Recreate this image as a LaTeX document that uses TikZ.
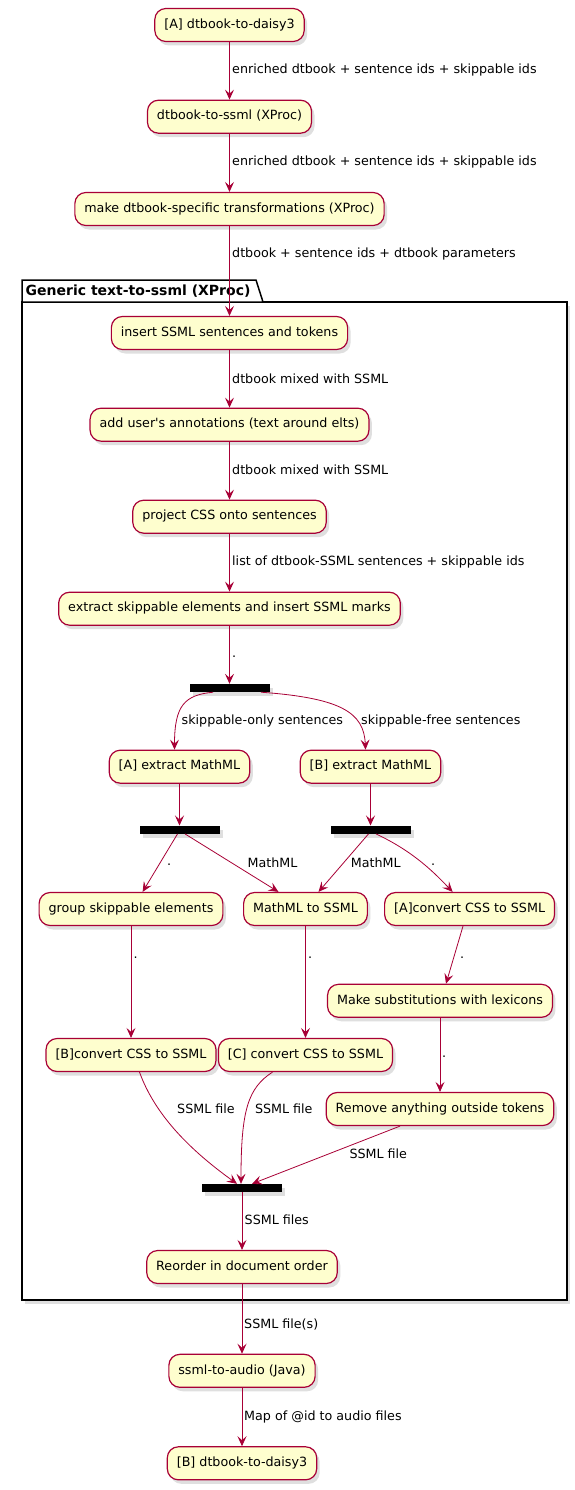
\documentclass[tikz,border=0pt]{standalone}
\usepackage{fontspec}
\setmainfont{DejaVu Sans}
\usetikzlibrary{arrows.meta, shadows}

\definecolor{umlred}{HTML}{A80036}
\definecolor{umlfill}{HTML}{FEFECE}

\begin{document}
\begin{tikzpicture}[x=1pt, y=-1pt,
        activity/.style={draw=umlred, line width=1.2pt, fill=umlfill, rounded corners=11pt, minimum height=33pt, inner xsep=9.5pt, text height=9pt, text depth=2.5pt, font=\fontsize{12.7}{14}\selectfont, drop shadow={shadow xshift=3pt, shadow yshift=-4pt, opacity=0.25}},
        syncbar/.style={fill=black, minimum width=80pt, minimum height=8pt, inner sep=0pt, drop shadow={shadow xshift=3pt, shadow yshift=-4pt, opacity=0.25}},
        flow/.style={draw=umlred, line width=0.8pt, -{Stealth[length=10pt, width=9pt, inset=4pt]}},
        lbl/.style={anchor=west, inner sep=1pt, font=\fontsize{12.7}{14}\selectfont}]
        \useasboundingbox (0,0) rectangle (575,1490);

        \draw[line width=1.5pt, fill=white, drop shadow={shadow xshift=3pt, shadow yshift=-4pt, opacity=0.25}] (22,302) rectangle (567,1300);
        \draw[line width=1.5pt, fill=white] (22,302) -- (22,280) -- (256,280) -- (263,302) -- cycle;
        \node[anchor=west, inner sep=0pt, font=\fontsize{14}{16}\selectfont\bfseries] (pkgtitle) at (25.5,291) {Generic text-to-ssml (XProc)};

        \node[activity] (daisyA) at (229.5,25) {[A] dtbook-to-daisy3};
        \node[activity] (tossml) at (229.5,116.7) {dtbook-to-ssml (XProc)};
        \node[activity] (dtbspecific) at (229.5,209) {make dtbook-specific transformations (XProc)};
        \node[activity] (insert) at (229.5,333) {insert SSML sentences and tokens};
        \node[activity] (annot) at (229.5,424.7) {add user\textquotesingle s annotations (text around elts)};
        \node[activity] (projcss) at (229.5,516.7) {project CSS onto sentences};
        \node[activity] (extract) at (229.5,608.7) {extract skippable elements and insert SSML marks};
        \node[syncbar] (forkA) at (229.5,688) {};
        \node[activity] (mathA) at (179.5,766.7) {[A] extract MathML};
        \node[activity] (mathB) at (370.5,766.7) {[B] extract MathML};
        \node[syncbar] (forkB) at (179.5,829.7) {};
        \node[syncbar] (forkC) at (370.5,829.7) {};
        \node[activity] (group) at (131,909) {group skippable elements};
        \node[activity] (mml) at (305.5,909) {MathML to SSML};
        \node[activity] (cssA) at (469.6,909) {[A]convert CSS to SSML};
        \node[activity] (lexicon) at (440,1000.8) {Make substitutions with lexicons};
        \node[activity] (cssB) at (131,1055) {[B]convert CSS to SSML};
        \node[activity] (cssC) at (305.5,1055) {[C] convert CSS to SSML};
        \node[activity] (remove) at (440,1109) {Remove anything outside tokens};
        \node[syncbar] (joinD) at (242,1188) {};
        \node[activity] (reorder) at (242,1267) {Reorder in document order};
        \node[activity] (audio) at (242,1370.8) {ssml-to-audio (Java)};
        \node[activity] (daisyB) at (242,1463.3) {[B] dtbook-to-daisy3};

        \draw[flow] (daisyA) -- (tossml);
        \draw[flow] (tossml) -- (dtbspecific);
        \draw[flow] (dtbspecific) -- (insert);
        \draw[flow] (insert) -- (annot);
        \draw[flow] (annot) -- (projcss);
        \draw[flow] (projcss) -- (extract);
        \draw[flow] (extract) -- (forkA);
        \draw[flow] ([xshift=-16.5pt]forkA.south) .. controls (185,695) and (174.5,705) .. ([xshift=-5pt]mathA.north);
        \draw[flow] ([xshift=31.5pt]forkA.south) .. controls (340,698) and (364,712) .. ([xshift=-5pt]mathB.north);
        \draw[flow] (mathA) -- (forkB);
        \draw[flow] (mathB) -- (forkC);
        \draw[flow] ([xshift=-2pt]forkB.south) -- ([xshift=11.6pt]group.north);
        \draw[flow] ([xshift=5.5pt]forkB.south) -- ([xshift=-27pt]mml.north);
        \draw[flow] ([xshift=-2pt]forkC.south) -- ([xshift=13pt]mml.north);
        \draw[flow] ([xshift=5.5pt]forkC.south) .. controls (410,850) and (430,868) .. ([xshift=-17pt]cssA.north);
        \draw[flow] (group) -- (cssB);
        \draw[flow] (mml) -- (cssC);
        \draw[flow] ([xshift=-6.6pt]cssA.south) -- ([xshift=6pt]lexicon.north);
        \draw[flow] (lexicon) -- (remove);
        \draw[flow] ([xshift=8.5pt]cssB.south) .. controls (155,1115) and (190,1150) .. ([xshift=-5pt]joinD.north);
        \draw[flow] ([xshift=-33pt]cssC.south) .. controls (248,1088) and (241,1110) .. ([xshift=-1pt]joinD.north);
        \draw[flow] ([xshift=-40pt]remove.south) -- ([xshift=10pt]joinD.north);
        \draw[flow] (joinD) -- (reorder);
        \draw[flow] (reorder) -- (audio);
        \draw[flow] (audio) -- (daisyB);

        \node[lbl] (l1) at (231,70) {enriched dtbook + sentence ids + skippable ids};
        \node[lbl] (l2) at (231,162.3) {enriched dtbook + sentence ids + skippable ids};
        \node[lbl] (l3) at (231,254.3) {dtbook + sentence ids + dtbook parameters};
        \node[lbl] (l4) at (231,378.3) {dtbook mixed with SSML};
        \node[lbl] (l5) at (231,470) {dtbook mixed with SSML};
        \node[lbl] (l6) at (231,562.3) {list of dtbook-SSML sentences + skippable ids};
        \node[lbl] (l7) at (231,656.7) {.};
        \node[lbl] (l8) at (180.5,720.7) {skippable-only sentences};
        \node[lbl] (l9) at (360,720.7) {skippable-free sentences};
        \node[lbl] (l10) at (166,865) {.};
        \node[lbl] (l11) at (246.5,862.3) {MathML};
        \node[lbl] (l12) at (349.7,862.3) {MathML};
        \node[lbl] (l13) at (430,865) {.};
        \node[lbl] (l14) at (132.5,957.3) {.};
        \node[lbl] (l15) at (307,957.3) {.};
        \node[lbl] (l16) at (459,957.3) {.};
        \node[lbl] (l17) at (441,1056.7) {.};
        \node[lbl] (l18) at (176,1108.3) {SSML file};
        \node[lbl] (l19) at (253.8,1108.3) {SSML file};
        \node[lbl] (l20) at (348.3,1154) {SSML file};
        \node[lbl] (l21) at (243.5,1220) {SSML files};
        \node[lbl] (l22) at (243,1324) {SSML file(s)};
        \node[lbl] (l23) at (243,1416.7) {Map of @id to audio files};
\end{tikzpicture}
\end{document}
